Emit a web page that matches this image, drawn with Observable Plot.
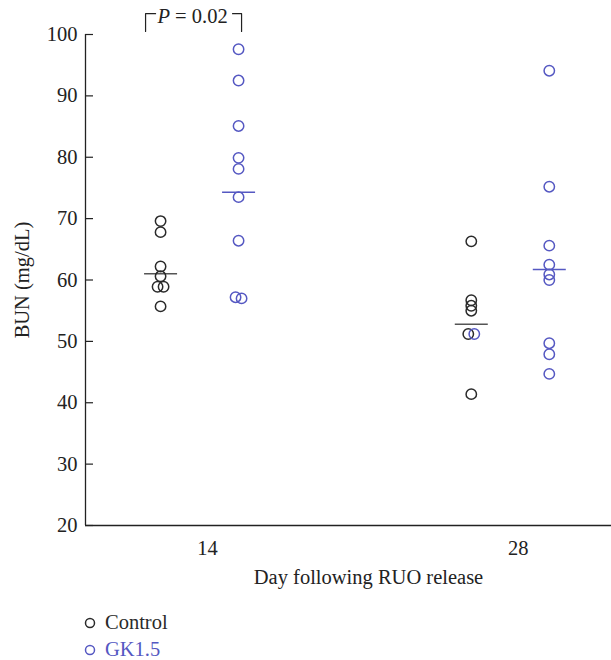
<!DOCTYPE html>
<html><head><meta charset="utf-8">
<script src="https://cdn.jsdelivr.net/npm/d3@7"></script>
<script src="https://cdn.jsdelivr.net/npm/@observablehq/plot@0.6"></script>
<style>
body{margin:0;background:#fff;font-family:"Liberation Serif","DejaVu Serif",serif;}
#chart{position:absolute;left:0;top:0;}
#legend{position:absolute;left:84px;top:609px;font-size:20.5px;line-height:27px;}
#legend div{display:flex;align-items:center;}
#legend svg{margin-right:9px;}
</style></head><body><div id="chart"></div><div id="legend"></div>
<script>
// ---- data ----
const days = [14, 28];
const groups = ["Control", "GK1.5"];
const colors = ["#2a2a2a", "#5558c2"];
const meanColors = ["#555555", "#5558c2"];
const yTicks = [20, 30, 40, 50, 60, 70, 80, 90, 100];
const control14 = [69.6, 67.8, 62.2, 60.6, 58.9, 58.9, 55.7];
const gk14 = [97.6, 92.5, 85.1, 79.9, 78.1, 73.5, 66.4, 57.2, 57.0];
const control28 = [66.3, 56.7, 55.8, 55.0, 51.2, 51.2, 41.4];
const gk28 = [94.1, 75.2, 65.6, 62.5, 60.9, 60.0, 49.7, 47.9, 44.7];
const means = {Control: [61.0, 52.8], "GK1.5": [74.3, 61.7]};
const pLabel = "P = 0.02";
const xLabel = "Day following RUO release";
const yLabel = "BUN (mg/dL)";

// ---- layout ----
const W = 611, H = 600, mL = 85, mR = 0, mT = 34, mB = 75;
const FS = 20.5;
const xDomain = [8.5, 32.2];
const ppd = (W - mL - mR) / (xDomain[1] - xDomain[0]);
const px = p => p / ppd;
const groupOffset = {Control: px(-47), "GK1.5": px(31)};

const series = {Control: [control14, control28], "GK1.5": [gk14, gk28]};
const rows = [];
for (const g of groups) {
  days.forEach((d, i) => {
    const vals = series[g][i];
    vals.forEach((v, j) => {
      let jit = 0;
      const prev = vals.findIndex((w, k) => k !== j && Math.abs(w - v) < 0.5);
      if (prev >= 0) jit = j < prev ? px(-3) : px(3);
      // the reference draws the second overlapping day-28 control circle in blue
      const stroke = (g === "Control" && d === 28 && prev >= 0 && j > prev) ? colors[1] : colors[groups.indexOf(g)];
      rows.push({day: d, group: g, value: v, x: d + groupOffset[g] + jit, stroke});
    });
  });
}
const meanRows = [];
for (const g of groups) days.forEach((d, i) => {
  const c = d + groupOffset[g];
  meanRows.push({group: g, value: means[g][i], x1: c - px(16), x2: c + px(17), stroke: meanColors[groups.indexOf(g)]});
});

const xL = 14 + groupOffset.Control - px(15);
const xR = 14 + groupOffset["GK1.5"] + px(3);
const yTop = 103.4, yBot = 100.5;
const bracketL = [[xL, yBot], [xL, yTop], [xL + px(10), yTop]];
const bracketR = [[xR - px(9), yTop], [xR, yTop], [xR, yBot]];

const chart = Plot.plot({
  width: W, height: H,
  marginLeft: mL, marginRight: mR, marginTop: mT, marginBottom: mB,
  style: {fontFamily: '"Liberation Serif", serif', fontSize: FS + "px", color: "#222", overflow: "visible"},
  x: {domain: xDomain, axis: null},
  y: {domain: [20, 100], axis: null},
  marks: [
    Plot.ruleY([20], {stroke: "#222", strokeWidth: 1.3}),
    Plot.ruleX([xDomain[0]], {y1: 20, y2: 100, stroke: "#222", strokeWidth: 1.3}),
    Plot.ruleY(yTicks, {x1: xDomain[0], x2: xDomain[0] + px(8), stroke: "#222", strokeWidth: 1.2}),
    Plot.text(yTicks, {x: xDomain[0], y: d => d, text: d => String(d), textAnchor: "end", dx: -8, fontSize: FS, fill: "#222"}),
    Plot.text(days, {x: d => d, y: 20, text: d => String(d), dy: 23, fontSize: FS, fill: "#222"}),
    Plot.text([xLabel], {frameAnchor: "bottom", textAnchor: "middle", lineAnchor: "middle", dx: 20, dy: 52, fontSize: FS, fill: "#222"}),
    Plot.text([yLabel], {frameAnchor: "left", textAnchor: "middle", lineAnchor: "middle", rotate: -90, dx: -63, fontSize: FS, fill: "#222"}),
    Plot.ruleY(meanRows, {y: "value", x1: "x1", x2: "x2", stroke: "stroke", strokeWidth: 1.5}),
    Plot.dot(rows, {x: "x", y: "value", r: 5.2, stroke: "stroke", strokeWidth: 1.5, fill: "none"}),
    Plot.line(bracketL, {x: d => d[0], y: d => d[1], stroke: "#222", strokeWidth: 1.2}),
    Plot.line(bracketR, {x: d => d[0], y: d => d[1], stroke: "#222", strokeWidth: 1.2}),
    Plot.text([pLabel], {x: (xL + xR) / 2 - px(1), y: 102.9, text: d => d, fontSize: FS, fill: "#222", className: "pval"})
  ]
});
document.getElementById("chart").append(chart);
d3.select(chart).selectAll(".pval text").each(function () {
  const t = d3.select(this); const s = t.text();
  t.text(null);
  t.append("tspan").attr("font-style", "italic").text(s.slice(0, 1));
  t.append("tspan").text(s.slice(1));
});

const legend = d3.select("#legend");
groups.forEach((g, i) => {
  const row = legend.append("div").style("color", colors[i]);
  const s = row.append("svg").attr("width", 12).attr("height", 12);
  s.append("circle").attr("cx", 6).attr("cy", 6).attr("r", 4.5).attr("fill", "none").attr("stroke", colors[i]).attr("stroke-width", 1.5);
  row.append("span").text(g);
});
</script></body></html>
